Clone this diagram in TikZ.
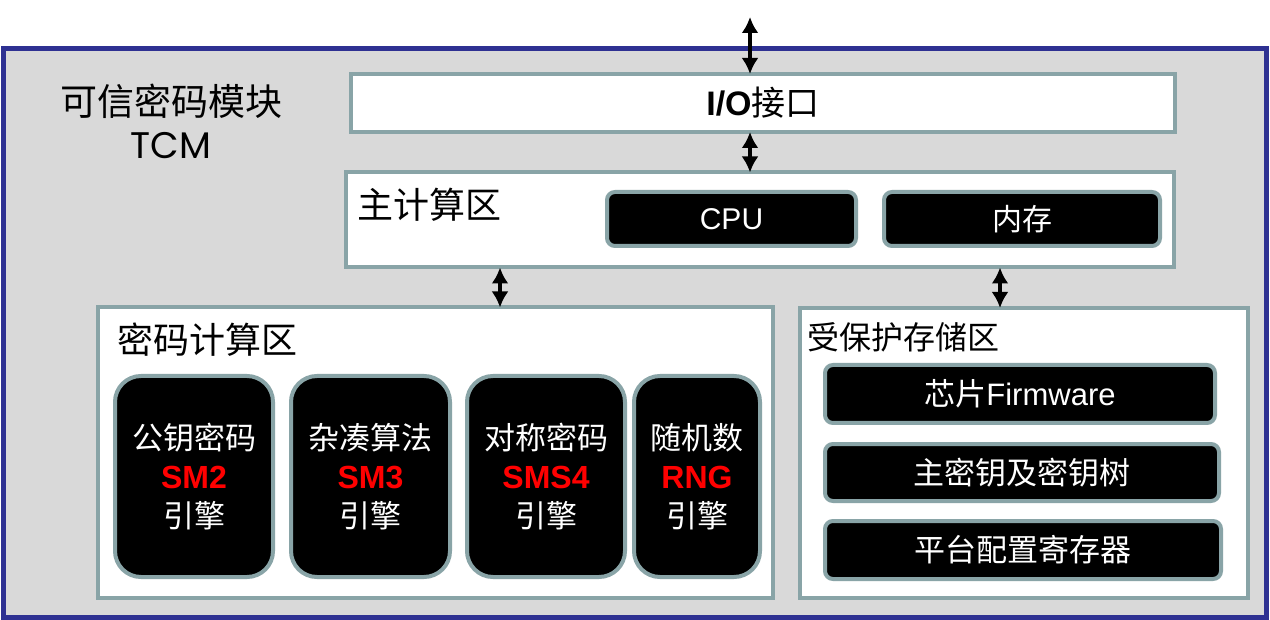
\documentclass[tikz,border=0pt]{standalone}
\usepackage{fontspec}
\setmainfont{Liberation Sans}
\newfontfamily\cjk{Noto Sans CJK SC}
\newfontfamily\geo{Poppins}
\usetikzlibrary{arrows.meta}

\definecolor{frameblue}{RGB}{46,49,146}
\definecolor{panelgray}{RGB}{217,217,217}
\definecolor{edgeteal}{RGB}{137,164,167}
\definecolor{smred}{RGB}{255,0,0}

\tikzset{
  zone/.style={draw=edgeteal, line width=4pt, fill=white, inner sep=0pt, outer sep=0pt},
  zonetitle/.style={anchor=west, inner sep=0pt, font=\cjk\fontsize{36}{40}\selectfont},
  unit/.style={draw=edgeteal, line width=4pt, fill=black, rounded corners=8pt, inner sep=0pt, outer sep=0pt, text=white, font=\fontsize{30}{36}\selectfont},
  engine/.style={unit, rounded corners=26pt, align=center, font=\fontsize{31}{39}\selectfont},
  link/.style={line width=4.5pt, {Latex[length=16pt,width=17pt]}-{Latex[length=16pt,width=17pt]}},
}
\newcommand{\algo}[1]{{\fontsize{32}{39}\selectfont\bfseries\color{smred}#1}}

\begin{document}
\begin{tikzpicture}[x=1pt, y=-1pt]
    \useasboundingbox (0,0) rectangle (1270,620);

    % Outer module
    \node[draw=frameblue, fill=panelgray, line width=5pt, inner sep=0pt, minimum width=1263pt, minimum height=568pt] (tcm) at (634.5,333) {};
    \node[align=center, font=\fontsize{37}{43}\selectfont] (title) at (171,121) {{\cjk 可信密码模块}\\{\geo TCM}};

    % I/O interface
    \node[zone, minimum width=824pt, minimum height=58pt, font=\fontsize{34}{40}\selectfont] (io) at (763,103) {\textbf{I/O}{\cjk 接口}};

    % Main computing zone
    \node[zone, minimum width=828pt, minimum height=95pt] (main) at (760,220) {};
    \node[zonetitle] (mainlbl) at (357,205) {主计算区};
    \node[unit, minimum width=249pt, minimum height=54pt] (cpu) at (731.5,219) {CPU};
    \node[unit, minimum width=276pt, minimum height=54pt] (mem) at (1022,219) {\cjk 内存};

    % Crypto computing zone
    \node[zone, minimum width=675pt, minimum height=290pt] (crypto) at (435,452.5) {};
    \node[zonetitle] (cryptolbl) at (117,340) {密码计算区};
    \node[engine, minimum width=158pt, minimum height=201pt] (sm2) at (194,476.5) {{\cjk 公钥密码}\\\algo{SM2}\\{\cjk 引擎}};
    \node[engine, minimum width=159pt, minimum height=201pt] (sm3) at (370.5,476.5) {{\cjk 杂凑算法}\\\algo{SM3}\\{\cjk 引擎}};
    \node[engine, minimum width=158pt, minimum height=201pt] (sms4) at (546,476.5) {{\cjk 对称密码}\\\algo{SMS4}\\{\cjk 引擎}};
    \node[engine, minimum width=126pt, minimum height=201pt] (rng) at (697,476.5) {{\cjk 随机数}\\\algo{RNG}\\{\cjk 引擎}};

    % Protected storage zone
    \node[zone, minimum width=448pt, minimum height=290pt] (store) at (1023.5,453) {};
    \node[zonetitle, font=\cjk\fontsize{32}{36}\selectfont] (storelbl) at (807,337) {受保护存储区};
    \node[unit, minimum width=390pt, minimum height=58pt, font=\fontsize{31}{36}\selectfont] (fw) at (1020,394) {{\cjk 芯片}Firmware};
    \node[unit, minimum width=394pt, minimum height=57pt, font=\cjk\fontsize{31}{36}\selectfont] (key) at (1022,472.5) {主密钥及密钥树};
    \node[unit, minimum width=396pt, minimum height=58pt, font=\cjk\fontsize{31}{36}\selectfont] (pcr) at (1023,550) {平台配置寄存器};

    % Links
    \coordinate (ext) at (750,17);
    \coordinate (cx) at (500,0);
    \coordinate (sx) at (1000,0);
    \draw[link] (ext) -- (ext |- io.north);
    \draw[link] (ext |- io.south) -- (ext |- main.north);
    \draw[link] (cx |- main.south) -- (cx |- crypto.north);
    \draw[link] (sx |- main.south) -- (sx |- store.north);
\end{tikzpicture}
\end{document}
